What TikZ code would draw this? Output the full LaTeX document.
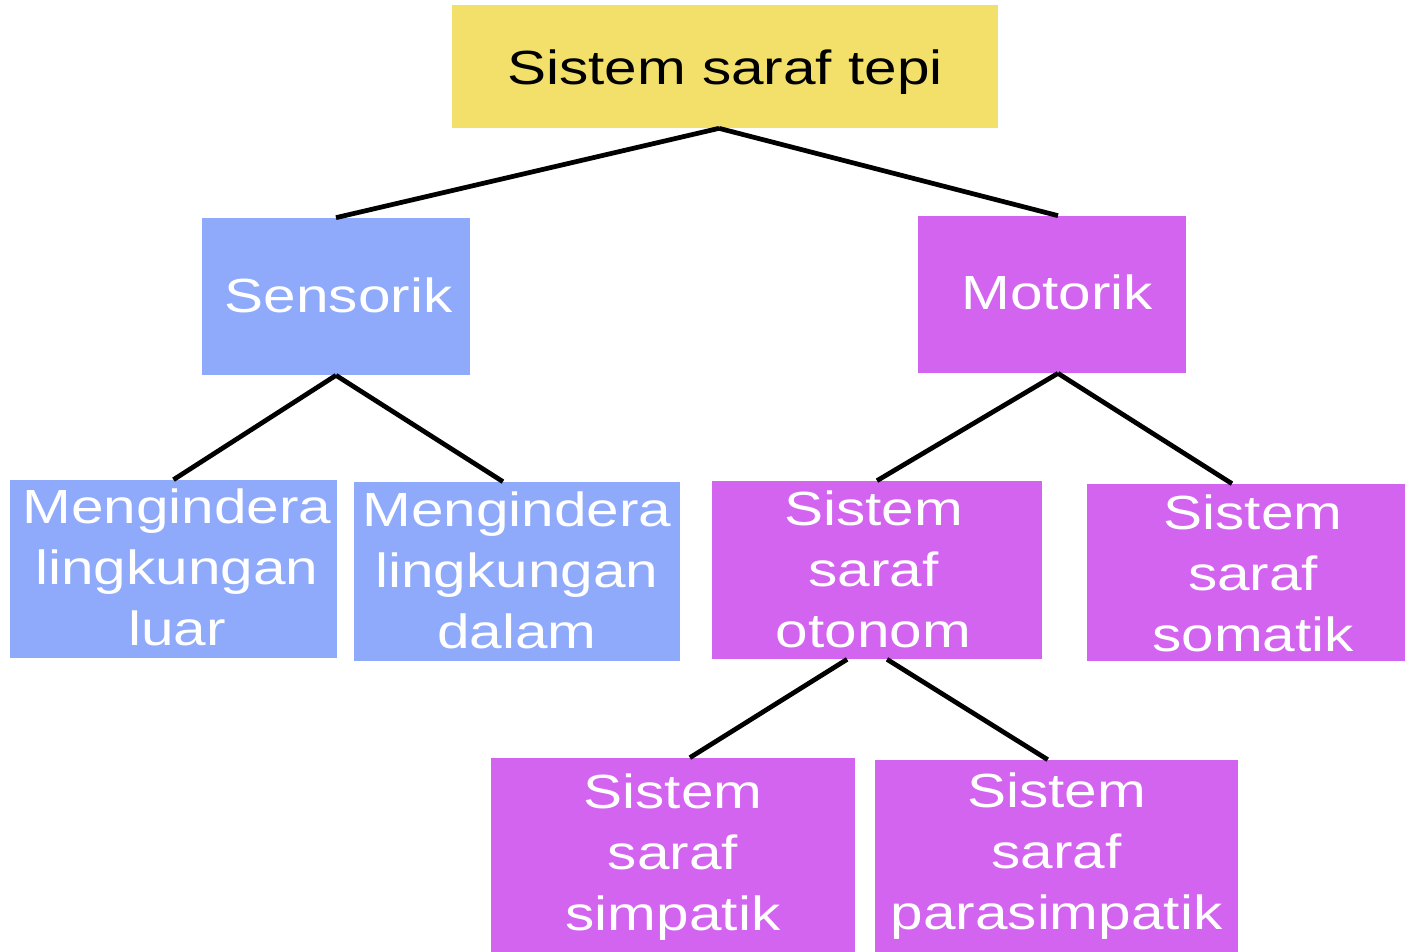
\documentclass[tikz,border=0pt]{standalone}
\usepackage{fontspec}
\setmainfont{Liberation Sans}
\newfontfamily\boxfont[FakeStretch=1.22]{Liberation Sans}
\definecolor{yel}{RGB}{242,224,106}
\definecolor{blu}{RGB}{143,170,250}
\definecolor{pur}{RGB}{210,100,240}
\newcommand\mylines[1]{\begin{tabular}[t]{@{}c@{}}#1\end{tabular}}
\begin{document}
\begin{tikzpicture}[x=0.02cm,y=-0.02cm,
 box/.style={rectangle, inner sep=0pt},
 ybox/.style={box, fill=yel},
 bbox/.style={box, fill=blu},
 pbox/.style={box, fill=pur},
 txt/.style={inner sep=0pt, anchor=base, text=white, font=\boxfont\fontsize{27.3}{34.8}\selectfont},
 link/.style={line width=2.7pt, black}]
\useasboundingbox (0,0) rectangle (1405,952);
\fill[white] (0,0) rectangle (1405,952);
% boxes
\node[ybox, minimum width=10.92cm, minimum height=2.46cm] (top) at (725,66.5) {};
\node[bbox, minimum width=5.36cm, minimum height=3.14cm] (sens) at (336,296.5) {};
\node[pbox, minimum width=5.36cm, minimum height=3.14cm] (mot) at (1052,294.5) {};
\node[bbox, minimum width=6.54cm, minimum height=3.56cm] (luar) at (173.5,569) {};
\node[bbox, minimum width=6.52cm, minimum height=3.58cm] (dalam) at (517,571.5) {};
\node[pbox, minimum width=6.6cm, minimum height=3.56cm] (oton) at (877,570) {};
\node[pbox, minimum width=6.36cm, minimum height=3.54cm] (soma) at (1246,572.5) {};
\node[pbox, minimum width=7.28cm, minimum height=3.88cm] (simp) at (673,855) {};
\node[pbox, minimum width=7.26cm, minimum height=3.84cm] (para) at (1056.5,856) {};
% texts
\node[txt, text=black] (topt) at ([yshift=-10.5pt]top.center) {Sistem saraf tepi};
\node[txt] (senst) at ([xshift=1.5pt,yshift=-9.35pt]sens.center) {Sensorik};
\node[txt] (mott) at ([xshift=3pt,yshift=-8.5pt]mot.center) {Motorik};
\node[txt] (luart) at ([xshift=2pt,yshift=26.1pt]luar.center) {\mylines{Mengindera\\lingkungan\\luar}};
\node[txt] (dalamt) at ([yshift=25.6pt]dalam.center) {\mylines{Mengindera\\lingkungan\\dalam}};
\node[txt] (otont) at ([xshift=-2pt,yshift=25.5pt]oton.center) {\mylines{Sistem\\saraf\\otonom}};
\node[txt] (somat) at ([xshift=4pt,yshift=24.7pt]soma.center) {\mylines{Sistem\\saraf\\somatik}};
\node[txt] (simpt) at ([yshift=26.6pt]simp.center) {\mylines{Sistem\\saraf\\simpatik}};
\node[txt] (parat) at ([yshift=27.8pt]para.center) {\mylines{Sistem\\saraf\\parasimpatik}};
% connectors
\draw[link] ([xshift=-3.4pt]top.south) -- (sens.north);
\draw[link] ([xshift=-3.4pt]top.south) -- ([xshift=3.4pt]mot.north);
\draw[link] (sens.south) -- (luar.north);
\draw[link] (sens.south) -- ([xshift=-8pt]dalam.north);
\draw[link] ([xshift=3.4pt]mot.south) -- (oton.north);
\draw[link] ([xshift=3.4pt]mot.south) -- ([xshift=-8pt]soma.north);
\draw[link] ([xshift=-17pt]oton.south) -- ([xshift=9.6pt]simp.north);
\draw[link] ([xshift=5.7pt]oton.south) -- ([xshift=-5pt]para.north);
\end{tikzpicture}
\end{document}
